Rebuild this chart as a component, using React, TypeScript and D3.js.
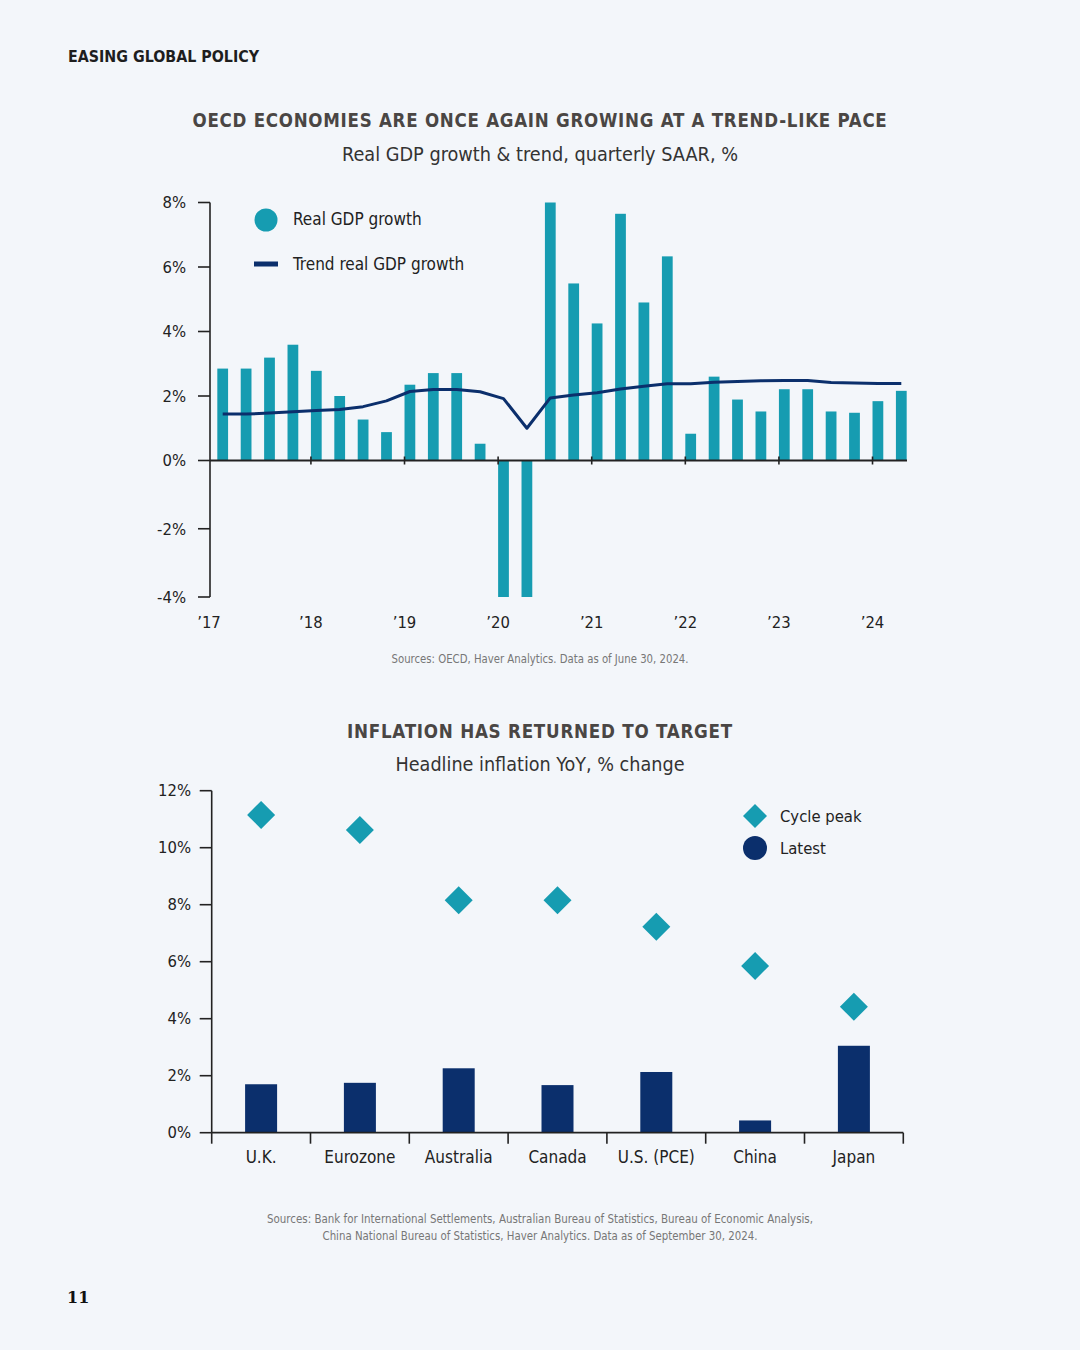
import React from "react";
import * as d3 from "d3";

// ---------- Data: chart 1 (OECD real GDP growth, quarterly SAAR %) ----------
const quarters: string[] = [
  "2017Q1","2017Q2","2017Q3","2017Q4",
  "2018Q1","2018Q2","2018Q3","2018Q4",
  "2019Q1","2019Q2","2019Q3","2019Q4",
  "2020Q1","2020Q2","2020Q3","2020Q4",
  "2021Q1","2021Q2","2021Q3","2021Q4",
  "2022Q1","2022Q2","2022Q3","2022Q4",
  "2023Q1","2023Q2","2023Q3","2023Q4",
  "2024Q1","2024Q2",
];
// values as displayed (axis clips at -4% and 8%)
const realGdp: number[] = [
  2.85, 2.85, 3.19, 3.59,
  2.78, 2.0, 1.27, 0.88,
  2.35, 2.71, 2.71, 0.52,
  -4, -4, 8, 5.49,
  4.25, 7.65, 4.9, 6.33,
  0.83, 2.6, 1.89, 1.52,
  2.21, 2.21, 1.52, 1.48,
  1.84, 2.16,
];
const trendGdp: number[] = [
  1.44, 1.44, 1.47, 1.51,
  1.55, 1.58, 1.67, 1.85,
  2.14, 2.2, 2.2, 2.13,
  1.92, 1.0, 1.94, 2.03,
  2.1, 2.22, 2.3, 2.38,
  2.38, 2.43, 2.45, 2.47,
  2.48, 2.48, 2.42, 2.4,
  2.39, 2.39,
];
const gdpYTicks: number[] = [8, 6, 4, 2, 0, -2, -4];
const yearTicks: string[] = ["2017Q1","2018Q1","2019Q1","2020Q1","2021Q1","2022Q1","2023Q1","2024Q1"];
const yearLabels: string[] = ["\u201917","\u201918","\u201919","\u201920","\u201921","\u201922","\u201923","\u201924"];

// ---------- Data: chart 2 (headline inflation YoY %) ----------
const countries: string[] = ["U.K.", "Eurozone", "Australia", "Canada", "U.S. (PCE)", "China", "Japan"];
const cyclePeak: number[] = [11.15, 10.62, 8.16, 8.16, 7.23, 5.85, 4.42];
const latest: number[] = [1.7, 1.75, 2.26, 1.67, 2.13, 0.43, 3.05];
const inflYTicks: number[] = [0, 2, 4, 6, 8, 10, 12];

// ---------- Styles ----------
const BG = "#f3f6fa";
const TEAL = "#169cb1";
const NAVY = "#0b2f6c";
const AXIS = "#222222";
const FONT = "'Liberation Sans Narrow', 'DejaVu Sans Condensed', 'Noto Sans', sans-serif";
const TITLE_COLOR = "#4a4644";

function GdpChart() {
  const x = d3.scaleBand<string>().domain(quarters).range([211, 913]).paddingInner(0.54).paddingOuter(0.27);
  const y = d3.scaleLinear().domain([-4, 0, 8]).range([597, 460.5, 202.5]);
  const bw = x.bandwidth();
  const line = d3
    .line<number>()
    .x((_, i) => (x(quarters[i]) as number) + bw / 2)
    .y((d) => y(d))
    .curve(d3.curveLinear);
  const axisX = 210;
  return (
    <g>
      {realGdp.map((v, i) => (
        <rect
          key={quarters[i]}
          x={x(quarters[i])}
          y={Math.min(y(v), y(0))}
          width={bw}
          height={Math.abs(y(v) - y(0))}
          fill={TEAL}
        />
      ))}
      <path d={line(trendGdp) || ""} fill="none" stroke={NAVY} strokeWidth={3} strokeLinejoin="round" />
      <line x1={axisX} x2={axisX} y1={y(8)} y2={y(-4)} stroke={AXIS} strokeWidth={1.6} />
      {gdpYTicks.map((t) => (
        <g key={t}>
          <line x1={axisX - 12} x2={axisX} y1={y(t)} y2={y(t)} stroke={AXIS} strokeWidth={1.6} />
          <text x={186} y={y(t)} dy="0.35em" textAnchor="end" fontSize={16.5} fill={AXIS} fontFamily={FONT}>
            {`${t}%`}
          </text>
        </g>
      ))}
      <line x1={axisX} x2={907} y1={y(0)} y2={y(0)} stroke={AXIS} strokeWidth={1.8} />
      {yearTicks.map((q, i) => {
        const tx = i === 0 ? axisX : (x(q) as number);
        return (
          <g key={q}>
            {i > 0 && <line x1={tx} x2={tx} y1={y(0) - 4} y2={y(0) + 4} stroke={AXIS} strokeWidth={1.6} />}
            <text x={i === 0 ? 209 : tx} y={628} textAnchor="middle" fontSize={16.5} fill={AXIS} fontFamily={FONT}>
              {yearLabels[i]}
            </text>
          </g>
        );
      })}
      <circle cx={266} cy={220} r={11.5} fill={TEAL} />
      <text x={293} y={225} fontSize={17} fill={AXIS} fontFamily={FONT}>Real GDP growth</text>
      <rect x={254} y={261.5} width={24} height={5} fill={NAVY} />
      <text x={293} y={270} fontSize={17} fill={AXIS} fontFamily={FONT}>Trend real GDP growth</text>
    </g>
  );
}

function InflationChart() {
  const x = d3.scaleBand<string>().domain(countries).range([211.7, 903.3]).padding(0);
  const y = d3.scaleLinear().domain([0, 12]).range([1132.7, 790.7]);
  const step = x.step();
  const barW = 32;
  const axisX = 211.7;
  const diamond = d3.symbol().type(d3.symbolSquare).size(2 * 14 * 14)();
  return (
    <g>
      {latest.map((v, i) => {
        const cx = (x(countries[i]) as number) + step / 2;
        return <rect key={countries[i]} x={cx - barW / 2} y={y(v)} width={barW} height={y(0) - y(v)} fill={NAVY} />;
      })}
      {cyclePeak.map((v, i) => {
        const cx = (x(countries[i]) as number) + step / 2;
        return (
          <path key={countries[i]} d={diamond || ""} transform={`translate(${cx},${y(v)}) rotate(45)`} fill={TEAL} />
        );
      })}
      <line x1={axisX} x2={axisX} y1={y(12)} y2={y(0)} stroke={AXIS} strokeWidth={1.6} />
      {inflYTicks.map((t) => (
        <g key={t}>
          <line x1={axisX - 12} x2={axisX} y1={y(t)} y2={y(t)} stroke={AXIS} strokeWidth={1.6} />
          <text x={191} y={y(t)} dy="0.35em" textAnchor="end" fontSize={16.5} fill={AXIS} fontFamily={FONT}>
            {`${t}%`}
          </text>
        </g>
      ))}
      <line x1={axisX} x2={903.3} y1={y(0)} y2={y(0)} stroke={AXIS} strokeWidth={1.8} />
      {countries.map((c, i) => {
        const bx = x(c) as number;
        return (
          <g key={c}>
            <line x1={bx} x2={bx} y1={y(0)} y2={y(0) + 11} stroke={AXIS} strokeWidth={1.6} />
            <text x={bx + step / 2} y={1163} textAnchor="middle" fontSize={17} fill={AXIS} fontFamily={FONT}>
              {c}
            </text>
          </g>
        );
      })}
      <line x1={903.3} x2={903.3} y1={y(0)} y2={y(0) + 11} stroke={AXIS} strokeWidth={1.6} />
      <path d={d3.symbol().type(d3.symbolSquare).size(2 * 12 * 12)() || ""} transform="translate(755,816) rotate(45)" fill={TEAL} />
      <text x={780} y={821.5} fontSize={16.5} fill={AXIS} fontFamily={FONT}>Cycle peak</text>
      <circle cx={755} cy={848} r={12} fill={NAVY} />
      <text x={780} y={853.5} fontSize={16.5} fill={AXIS} fontFamily={FONT}>Latest</text>
    </g>
  );
}

export default function App() {
  const fitted = { lengthAdjust: "spacingAndGlyphs" as const };
  return (
    <svg
      width={1080}
      height={1350}
      viewBox="0 0 1080 1350"
      style={{ position: "absolute", left: 0, top: 0, display: "block", background: BG }}
    >
      <rect x={0} y={0} width={1080} height={1350} fill={BG} />
      <text x={68} y={62} fontSize={16} fontWeight="bold" fill="#1e1e1e" fontFamily={FONT} textLength={191} {...fitted}>
        EASING GLOBAL POLICY
      </text>
      <text x={540} y={127} textAnchor="middle" fontSize={20} fontWeight="bold" letterSpacing={0.8} fill={TITLE_COLOR} fontFamily={FONT} textLength={695} {...fitted}>
        OECD ECONOMIES ARE ONCE AGAIN GROWING AT A TREND-LIKE PACE
      </text>
      <text x={540} y={161} textAnchor="middle" fontSize={20} fill="#333" fontFamily={FONT} textLength={396} {...fitted}>
        Real GDP growth &amp; trend, quarterly SAAR, %
      </text>
      <GdpChart />
      <text x={540} y={663} textAnchor="middle" fontSize={11.5} fill="#777" fontFamily={FONT} textLength={297} {...fitted}>
        Sources: OECD, Haver Analytics. Data as of June 30, 2024.
      </text>

      <text x={540} y={738} textAnchor="middle" fontSize={20} fontWeight="bold" letterSpacing={0.8} fill={TITLE_COLOR} fontFamily={FONT} textLength={386} {...fitted}>
        INFLATION HAS RETURNED TO TARGET
      </text>
      <text x={540} y={771} textAnchor="middle" fontSize={20} fill="#333" fontFamily={FONT} textLength={289} {...fitted}>
        Headline inflation YoY, % change
      </text>
      <InflationChart />
      <text x={540} y={1223} textAnchor="middle" fontSize={11.5} fill="#777" fontFamily={FONT} textLength={546} {...fitted}>
        Sources: Bank for International Settlements, Australian Bureau of Statistics, Bureau of Economic Analysis,
      </text>
      <text x={540} y={1240} textAnchor="middle" fontSize={11.5} fill="#777" fontFamily={FONT} textLength={435} {...fitted}>
        China National Bureau of Statistics, Haver Analytics. Data as of September 30, 2024.
      </text>
      <text x={67} y={1303} fontSize={16} fontWeight="bold" fill="#111" fontFamily="'DejaVu Serif', 'Liberation Serif', serif">
        11
      </text>
    </svg>
  );
}
